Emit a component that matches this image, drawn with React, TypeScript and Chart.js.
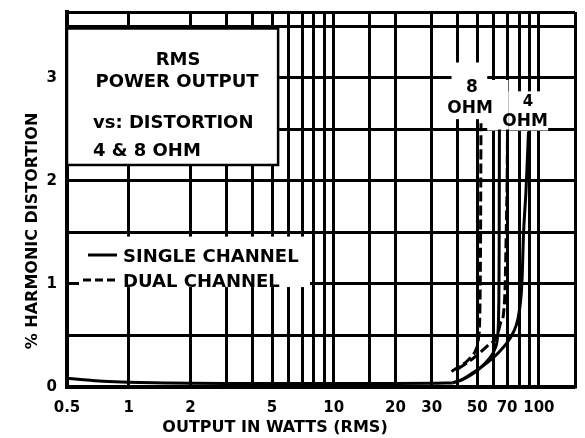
import React, { useEffect, useRef } from "react";
import { Chart, registerables } from "chart.js";

Chart.register(...registerables);

// ---- axes / grid ----
const X_GRID = [0.5, 1, 2, 3, 4, 5, 6, 7, 8, 9, 10, 15, 20, 30, 40, 50, 60, 70, 80, 90, 100, 150];
const X_LABELS = [0.5, 1, 2, 5, 10, 20, 30, 50, 70, 100];
const Y_GRID = [0, 0.5, 1, 1.5, 2, 2.5, 3, 3.5, 3.64];
const Y_LABELS = [0, 1, 2, 3];

// ---- data (watts, % harmonic distortion) ----
const LOW_WATTS = [0.5, 0.6, 0.75, 1, 1.5, 2, 3, 5, 10, 20, 30, 38];
const LOW_PCT = [0.085, 0.07, 0.055, 0.045, 0.04, 0.037, 0.035, 0.035, 0.035, 0.035, 0.036, 0.04];

const SINGLE_8_WATTS = [38, 42, 46, 50, 54, 58, 61, 62.8, 63.6, 64, 64.2];
const SINGLE_8_PCT = [0.04, 0.07, 0.11, 0.16, 0.22, 0.29, 0.37, 0.48, 0.7, 1.3, 2.5];

const DUAL_8_WATTS = [37.5, 41, 44, 47, 49.5, 50.8, 51.5, 51.9, 52.2];
const DUAL_8_PCT = [0.15, 0.2, 0.24, 0.3, 0.37, 0.48, 0.7, 1.3, 2.56];

const SINGLE_4_WATTS = [38, 42, 47, 53, 58, 64, 70, 75, 79, 82, 83, 84, 86.5, 89];
const SINGLE_4_PCT = [0.04, 0.07, 0.13, 0.2, 0.26, 0.34, 0.43, 0.53, 0.66, 0.9, 1.1, 1.45, 1.9, 2.48];

const DUAL_4_WATTS = [40.5, 45, 50, 56.8, 62.5, 65, 67.3, 68.5, 69.3, 70, 70.3];
const DUAL_4_PCT = [0.18, 0.24, 0.31, 0.41, 0.49, 0.62, 0.72, 1.0, 1.5, 2.0, 2.5];

// ---- text ----
const BOX_LINES = ["RMS", "POWER OUTPUT", "vs: DISTORTION", "4 & 8 OHM"];
const LEGEND_LABELS = ["SINGLE CHANNEL", "DUAL CHANNEL"];
const OHM8_LABEL = ["8", "OHM"];
const OHM4_LABEL = ["4", "OHM"];
const X_TITLE = "OUTPUT IN WATTS (RMS)";
const Y_TITLE = "% HARMONIC DISTORTION";

const FONT = "DejaVu Sans";

const pts = (xs: number[], ys: number[]) => xs.map((x, i) => ({ x, y: ys[i] }));

const overlay = {
  id: "overlay",
  beforeDatasetsDraw(chart: any) {
    const ctx = chart.ctx as CanvasRenderingContext2D;
    const xs = chart.scales.x;
    const ys = chart.scales.y;
    const area = chart.chartArea;
    const X = (v: number) => xs.getPixelForValue(v);
    const Y = (v: number) => ys.getPixelForValue(v);
    ctx.save();
    ctx.fillStyle = "#fff";
    // legend background
    ctx.fillRect(79, Y(1.46), 231, Y(0.97) - Y(1.46));
    // 8 OHM label background
    ctx.fillRect(X(37.5), Y(3.15), X(56) - X(37.5), Y(2.6) - Y(3.15));
    // 4 OHM label background
    ctx.fillRect(X(56), Y(2.98), X(71) - X(56), Y(2.49) - Y(2.98));
    ctx.fillRect(X(71), Y(2.87), X(111) - X(71), Y(2.49) - Y(2.87));

    // title box
    const bx = area.left;
    const by = Y(3.48);
    const bw = X(5.35) - bx;
    const bh = Y(2.155) - by;
    ctx.fillRect(bx, by, bw, bh);
    ctx.strokeStyle = "#000";
    ctx.lineWidth = 2.5;
    ctx.strokeRect(bx, by, bw, bh);

    ctx.fillStyle = "#000";
    ctx.font = `bold 18px "${FONT}"`;
    ctx.textBaseline = "alphabetic";
    ctx.textAlign = "center";
    ctx.fillText(BOX_LINES[0], 178, 65);
    ctx.fillText(BOX_LINES[1], 177, 87);
    ctx.textAlign = "left";
    ctx.fillText(BOX_LINES[2], 93, 128);
    ctx.fillText(BOX_LINES[3], 93, 156);

    // legend
    ctx.lineWidth = 3;
    ctx.beginPath();
    ctx.moveTo(88, 255);
    ctx.lineTo(117, 255);
    ctx.stroke();
    ctx.setLineDash([8, 4]);
    ctx.beginPath();
    ctx.moveTo(83, 280);
    ctx.lineTo(117, 280);
    ctx.stroke();
    ctx.setLineDash([]);
    ctx.fillText(LEGEND_LABELS[0], 123, 262);
    ctx.fillText(LEGEND_LABELS[1], 123, 287);

    // OHM labels
    ctx.textAlign = "center";
    ctx.font = `bold 17px "${FONT}"`;
    ctx.fillText(OHM8_LABEL[0], 472, 92);
    ctx.fillText(OHM8_LABEL[1], 470, 113);
    ctx.font = `bold 15px "${FONT}"`;
    ctx.fillText(OHM4_LABEL[0], 528, 106);
    ctx.font = `bold 17px "${FONT}"`;
    ctx.fillText(OHM4_LABEL[1], 525, 126);
    ctx.restore();
  },
  afterDraw(chart: any) {
    const ctx = chart.ctx as CanvasRenderingContext2D;
    ctx.save();
    ctx.fillStyle = "#000";
    ctx.textAlign = "center";
    ctx.textBaseline = "alphabetic";
    ctx.font = `bold 16px "${FONT}"`;
    ctx.fillText(X_TITLE, 275, 432);
    ctx.translate(37, 231);
    ctx.rotate(-Math.PI / 2);
    ctx.fillText(Y_TITLE, 0, 0);
    ctx.restore();
  },
};

const fmtX = (v: number) => (v < 1 ? "0.5" : String(v));

export default function App() {
  const ref = useRef<HTMLCanvasElement | null>(null);
  useEffect(() => {
    if (!ref.current) return;
    const solid = { borderColor: "#000", borderWidth: 3, pointRadius: 0, fill: false, cubicInterpolationMode: "monotone" as const };
    const dashed = { ...solid, borderDash: [10, 4] };
    const chart = new Chart(ref.current, {
      type: "line",
      data: {
        datasets: [
          { label: "Low power", data: pts(LOW_WATTS, LOW_PCT), ...solid },
          { label: "8 OHM single channel", data: pts(SINGLE_8_WATTS, SINGLE_8_PCT), ...solid },
          { label: "8 OHM dual channel", data: pts(DUAL_8_WATTS, DUAL_8_PCT), ...dashed },
          { label: "4 OHM single channel", data: pts(SINGLE_4_WATTS, SINGLE_4_PCT), ...solid },
          { label: "4 OHM dual channel", data: pts(DUAL_4_WATTS, DUAL_4_PCT), ...dashed },
        ],
      },
      options: {
        animation: false,
        responsive: false,
        devicePixelRatio: 1,
        layout: { padding: { top: 12, right: 10, left: 0, bottom: 0 } },
        plugins: { legend: { display: false }, tooltip: { enabled: false } },
        scales: {
          x: {
            type: "logarithmic",
            min: 0.5,
            max: 150,
            afterBuildTicks: (s: any) => {
              s.ticks = X_GRID.map((v) => ({ value: v }));
            },
            afterFit: (s: any) => {
              s.height = 51;
              s.paddingLeft = 0;
              s.paddingRight = 0;
            },
            ticks: {
              autoSkip: false,
              maxRotation: 0,
              minRotation: 0,
              padding: 12,
              color: "#000",
              font: { family: FONT, size: 15, weight: "bold" },
              callback: (v: any) => (X_LABELS.includes(Number(v)) ? fmtX(Number(v)) : ""),
            },
            grid: { color: "#000", lineWidth: 3, drawTicks: false },
            border: { color: "#000", width: 3.5 },
          },
          y: {
            type: "linear",
            min: 0,
            max: 3.64,
            afterBuildTicks: (s: any) => {
              s.ticks = Y_GRID.map((v) => ({ value: v }));
            },
            afterFit: (s: any) => {
              s.width = 67;
              s.paddingTop = 0;
              s.paddingBottom = 0;
            },
            ticks: {
              padding: 10,
              color: "#000",
              font: { family: FONT, size: 15, weight: "bold" },
              callback: (v: any) => (Y_LABELS.includes(Number(v)) ? String(v) : ""),
            },
            grid: { color: "#000", lineWidth: 3, drawTicks: false },
            border: { color: "#000", width: 4 },
          },
        },
      },
      plugins: [overlay],
    } as any);
    return () => chart.destroy();
  }, []);
  return (
    <div style={{ position: "absolute", left: 0, top: 0, width: 585, height: 438, background: "#fff" }}>
      <canvas ref={ref} width={585} height={438} />
    </div>
  );
}
